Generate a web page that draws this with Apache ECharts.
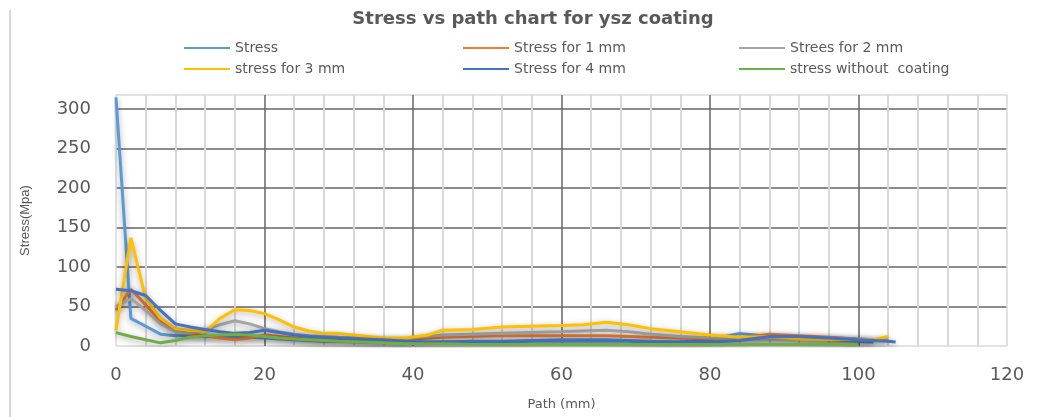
<!DOCTYPE html>
<html>
<head>
<meta charset="utf-8">
<script src="https://cdn.jsdelivr.net/npm/echarts@6/dist/echarts.min.js"></script>
<style>
  html, body { margin: 0; padding: 0; background: #fff; }
  #chart { width: 1046px; height: 417px; }
</style>
</head>
<body>
<div id="chart"></div>
<script>
// path positions (mm) shared by all series
var path = [0, 2, 4, 6, 8, 10, 12, 14, 16, 18, 20, 22, 24, 26, 28, 30, 33, 36, 39, 42, 44, 48, 52, 56, 60, 63, 66, 69, 72, 76, 80, 84, 88, 92, 96, 100, 102, 104, 105];

var stress     = [315, 35, 25, 15, 13, 13, 12, 12, 12, 11, 10, 9, 8, 7, 6, 6, 5, 5, 4, 4, 5, 5, 5, 6, 6, 6, 6, 6, 5, 5, 8, 16, 12, 10, 8, 6, 5, null, null];
var stress1mm  = [45, 72, 52, 32, 20, 15, 13, 10, 8, 10, 14, 12, 10, 9, 8, 8, 7, 7, 8, 10, 11, 12, 13, 13, 13, 13, 13, 12, 11, 10, 9, 10, 15, 13, 11, 9, 8, null, null];
var stress2mm  = [50, 60, 45, 28, 18, 16, 20, 27, 32, 28, 22, 18, 15, 13, 12, 11, 10, 9, 9, 12, 14, 15, 16, 17, 18, 19, 20, 18, 15, 12, 10, 9, 9, 10, 10, 9, 8, 8, null];
var stress3mm  = [20, 137, 60, 35, 22, 20, 18, 35, 46, 45, 41, 33, 24, 19, 16, 16, 13, 10, 10, 14, 20, 21, 24, 25, 26, 27, 30, 27, 22, 18, 14, 11, 12, 9, 8, 8, 8, 12, null];
var stress4mm  = [72, 70, 64, 45, 28, 24, 21, 18, 16, 17, 20, 17, 14, 12, 11, 10, 9, 8, 6, 5, 5, 6, 6, 7, 8, 8, 8, 7, 6, 5, 5, 7, 12, 12, 10, 8, 7, 6, 5];
var noCoating  = [17, 12, 8, 4, 7, 11, 13, 14, 15, 14, 12, 10, 9, 8, 7, 6, 5, 4, 3, 3, 3, 2, 2, 2, 2, 2, 2, 2, 2, 2, 2, 2, 2, 2, 2, 2, null, null, null];

var seriesNames = ['Stress', 'Stress for 1 mm', 'Strees for 2 mm', 'stress for 3 mm', 'Stress for 4 mm', 'stress without  coating'];
var seriesValues = [stress, stress1mm, stress2mm, stress3mm, stress4mm, noCoating];
var seriesColors = ['#5B9BD5', '#ED7D31', '#A5A5A5', '#FFC000', '#4472C4', '#70AD47'];

var yTicks = [0, 50, 100, 150, 200, 250, 300];

var textColor = '#595959';
var dark = '#666666';
var light = '#d9d9d9';

function pairs(vals) {
    var out = [];
    for (let i = 0; i < path.length; i++) {
        if (vals[i] !== null) out.push([path[i], vals[i]]);
    }
    return out;
}

var series = [];
for (let i = 0; i < seriesNames.length; i++) {
    series.push({
        name: seriesNames[i],
        type: 'line',
        symbol: 'none',
        showSymbol: false,
        data: pairs(seriesValues[i]),
        itemStyle: { color: seriesColors[i] },
        lineStyle: {
            width: 3,
            color: seriesColors[i],
            shadowColor: 'rgba(0,0,0,0.35)',
            shadowBlur: 6,
            shadowOffsetY: 2
        },
        z: 2 + i
    });
}

function legendCol(left, names) {
    return {
        orient: 'vertical',
        left: left,
        top: 41,
        padding: 0,
        icon: 'rect',
        itemWidth: 46,
        itemHeight: 2,
        itemGap: 7,
        data: names,
        textStyle: { color: textColor, fontSize: 14, fontFamily: 'DejaVu Sans' }
    };
}

var myChart = echarts.init(document.getElementById('chart'));
myChart.setOption({
    animation: false,
    backgroundColor: '#fff',
    title: {
        text: 'Stress vs path chart for ysz coating',
        left: 533,
        textAlign: 'center',
        top: 10,
        padding: 0,
        textStyle: { color: textColor, fontSize: 18, fontWeight: 'bold', fontFamily: 'DejaVu Sans' }
    },
    legend: [
        legendCol(184, [seriesNames[0], seriesNames[3]]),
        legendCol(463, [seriesNames[1], seriesNames[4]]),
        legendCol(739, [seriesNames[2], seriesNames[5]])
    ],
    graphic: [{
        type: 'line',
        shape: { x1: 10, y1: 10, x2: 10, y2: 417 },
        style: { stroke: '#d9d9d9', lineWidth: 2 }
    }],
    grid: { left: 116, right: 39, top: 95, bottom: 71, outerBoundsMode: 'none', containLabel: false },
    xAxis: {
        type: 'value',
        min: 0,
        max: 120,
        interval: 20,
        name: 'Path (mm)',
        nameLocation: 'middle',
        nameGap: 52,
        nameTextStyle: { color: textColor, fontSize: 13, fontFamily: 'DejaVu Sans' },
        axisLine: { show: false },
        axisTick: { show: false },
        axisLabel: { color: textColor, fontSize: 18, margin: 20, fontFamily: 'DejaVu Sans' },
        splitLine: { lineStyle: { color: [light, dark, dark, dark, dark, dark, light], width: 1.5 } },
        minorTick: { show: false, splitNumber: 5 },
        minorSplitLine: { show: true, lineStyle: { color: light, width: 2 } }
    },
    yAxis: {
        type: 'value',
        min: 0,
        max: 318,
        interval: 50,
        name: 'Stress(Mpa)',
        nameLocation: 'middle',
        nameGap: 84,
        nameTextStyle: { color: textColor, fontSize: 13, fontFamily: 'Liberation Sans' },
        axisLine: { show: false },
        axisTick: { show: false },
        axisLabel: {
            color: textColor, fontSize: 18, margin: 25, fontFamily: 'DejaVu Sans',
            showMaxLabel: false,
            formatter: function (v) { return yTicks.indexOf(v) >= 0 ? String(v) : ''; }
        },
        splitLine: { lineStyle: { color: [light, dark, dark, dark, dark, dark, dark, light], width: 1.5 } }
    },
    series: series
});
</script>
</body>
</html>
